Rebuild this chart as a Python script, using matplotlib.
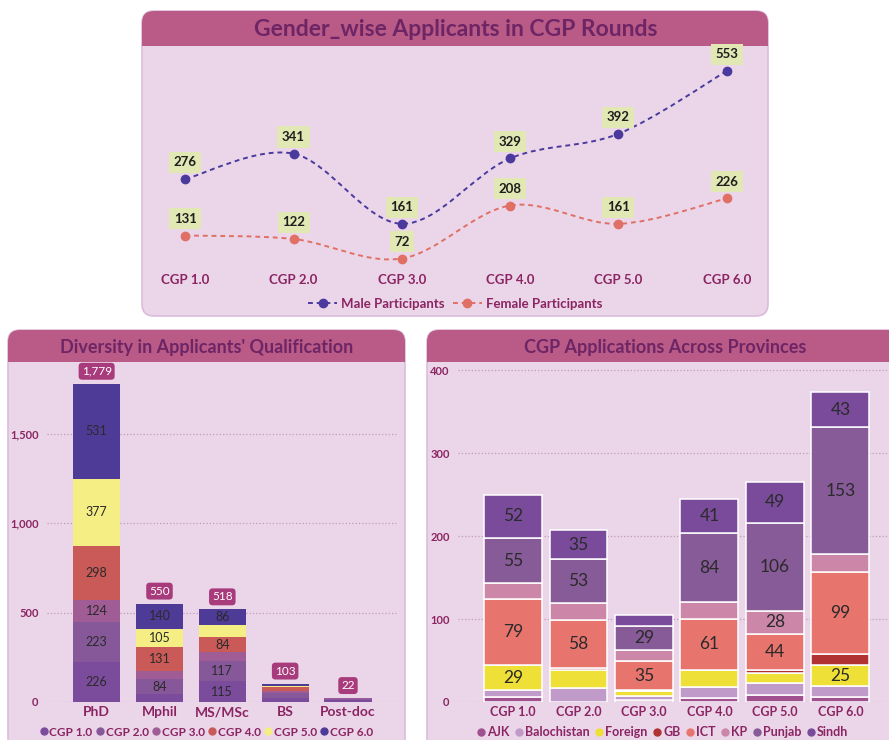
import numpy as np
import matplotlib.pyplot as plt
from matplotlib.patches import FancyBboxPatch, Rectangle, PathPatch
from matplotlib.path import Path
from matplotlib.lines import Line2D

plt.rcParams['font.family'] = ['Lato', 'DejaVu Sans']

# Gender-wise data
rounds = ["CGP 1.0", "CGP 2.0", "CGP 3.0", "CGP 4.0", "CGP 5.0", "CGP 6.0"]
male = [276, 341, 161, 329, 392, 553]
female = [131, 122, 72, 208, 161, 226]

# Qualification data (stacked by round)
quals = ["PhD", "Mphil", "MS/MSc", "BS", "Post-doc"]
qual_rounds = {
    "CGP 1.0": [226, 43, 115, 22, 10],
    "CGP 2.0": [223, 84, 117, 28, 7],
    "CGP 3.0": [124, 47, 47, 12, 5],
    "CGP 4.0": [298, 131, 84, 20, 0],
    "CGP 5.0": [377, 105, 69, 6, 0],
    "CGP 6.0": [531, 140, 86, 15, 0],
}
qual_totals = [1779, 550, 518, 103, 22]
qual_colors = ["#7b4b9c", "#86589a", "#a05c95", "#c95a57", "#f5ee84", "#4d3b97"]

# Province data (stacked by province)
provinces = {
    "AJK": [6, 0, 2, 5, 8, 6],
    "Balochistan": [9, 17, 5, 13, 15, 13],
    "Foreign": [29, 21, 6, 21, 12, 25],
    "GB": [1, 3, 1, 0, 3, 14],
    "ICT": [79, 58, 35, 61, 44, 99],
    "KP": [19, 20, 14, 20, 28, 21],
    "Punjab": [55, 53, 29, 84, 106, 153],
    "Sindh": [52, 35, 13, 41, 49, 43],
}
prov_colors = ["#a0508e", "#c09ac8", "#eee036", "#b03232", "#e8746e", "#cc86a8", "#875a98", "#7a4b9b"]

BODY = "#ead6e8"
EDGE = "#dcbcdc"
BAND = "#b95a87"
TITLE = "#6e2565"
TICK = "#8b2463"

W, H = 889, 740
fig = plt.figure(figsize=(W / 100, H / 100), dpi=100)


def add_ax(left, top, right, bottom):
    ax = fig.add_axes([left / W, 1 - bottom / H, (right - left) / W, (bottom - top) / H])
    ax.set_facecolor("none")
    for s in ax.spines.values():
        s.set_visible(False)
    return ax


def panel(left, top, right, bottom, band_bottom, title, size, title_x):
    tr = fig.dpi_scale_trans
    r = 0.12
    body = FancyBboxPatch((left / 100, (H - bottom) / 100), (right - left) / 100, (bottom - top) / 100,
                          boxstyle=f"round,pad=0,rounding_size={r}", transform=tr,
                          fc=BODY, ec=EDGE, lw=1.2, zorder=-5)
    band = FancyBboxPatch((left / 100, (H - band_bottom) / 100), (right - left) / 100, (band_bottom - top) / 100,
                          boxstyle=f"round,pad=0,rounding_size={r}", transform=tr,
                          fc=BAND, ec="none", zorder=-4)
    sq = Rectangle((left / 100, (H - band_bottom) / 100), (right - left) / 100, (band_bottom - top) / 200,
                   transform=tr, fc=BAND, ec="none", zorder=-4)
    fig.patches.extend([body, band, sq])
    fig.text(title_x / W, 1 - ((top + band_bottom) / 2 + 1) / H, title,
             ha="center", va="center", fontsize=size, fontweight="bold", color=TITLE)


panel(142, 11, 768, 316, 46, "Gender_wise Applicants in CGP Rounds", 16.5, 456)
panel(8, 330, 405, 770, 362, "Diversity in Applicants' Qualification", 13, 207)
panel(427, 330, 910, 770, 362, "CGP Applications Across Provinces", 13, 665)


def smooth_path(xs, ys):
    pts = np.column_stack([xs, ys]).astype(float)
    n = len(pts)
    verts = [pts[0]]
    codes = [Path.MOVETO]
    for i in range(n - 1):
        p0 = pts[max(i - 1, 0)]
        p1 = pts[i]
        p2 = pts[i + 1]
        p3 = pts[min(i + 2, n - 1)]
        verts += [p1 + (p2 - p0) / 6, p2 - (p3 - p1) / 6, p2]
        codes += [Path.CURVE4] * 3
    return Path(verts, codes)


# ---- top: line chart
ax1 = add_ax(142, 50, 770, 270)
x = np.arange(len(rounds))
for vals, col in [(male, "#4b3a9e"), (female, "#e07065")]:
    ax1.add_patch(PathPatch(smooth_path(x, vals), fill=False, ec=col, lw=1.4,
                            linestyle=(0, (2.5, 2))))
    ax1.plot(x, vals, "o", color=col, ms=6, ls="none")
    for i, v in enumerate(vals):
        ax1.annotate(str(v), (i, v), xytext=(0, 12), textcoords="offset points",
                     ha="center", va="center", fontsize=9.5, fontweight="bold", color="#1e1e1e",
                     bbox=dict(boxstyle="square,pad=0.35", fc="#e2e8b4", ec="none"))
ax1.set_xlim(-0.4, 5.4)
ax1.set_ylim(42.5, 607)
ax1.set_yticks([])
ax1.set_xticks(x)
ax1.set_xticklabels(rounds, fontsize=9.5, fontweight="bold", color=TICK)
ax1.tick_params(axis="x", length=0, pad=3)
h1 = [Line2D([], [], color="#4b3a9e", marker="o", ms=6, ls=(0, (2.5, 2)), lw=1.4),
      Line2D([], [], color="#e07065", marker="o", ms=6, ls=(0, (2.5, 2)), lw=1.4)]
leg = fig.legend(h1, ["Male Participants", "Female Participants"], loc="center",
                 bbox_to_anchor=(455 / W, 1 - 304 / H), ncol=2, frameon=False,
                 handlelength=2.2, handletextpad=0.3, columnspacing=0.6,
                 prop=dict(size=9.5, weight="bold"))
for t in leg.get_texts():
    t.set_color(TICK)

# ---- bottom left: qualification
ax2 = add_ax(47, 370, 397, 702)
xq = np.arange(len(quals))
bottom = np.zeros(len(quals))
for (name, vals), col in zip(qual_rounds.items(), qual_colors):
    vals = np.array(vals, dtype=float)
    ax2.bar(xq, vals, 0.75, bottom=bottom, color=col, edgecolor="none", zorder=2)
    for i, v in enumerate(vals):
        if v >= 80:
            ax2.text(i, bottom[i] + v / 2, f"{int(v)}", ha="center", va="center",
                     fontsize=9, color="#2a2a2a", zorder=3)
    bottom += vals
for i, t in enumerate(qual_totals):
    ax2.annotate(f"{t:,}", (i, t), xytext=(0, 9), textcoords="offset points",
                 ha="center", va="center", fontsize=8.5, color="white", zorder=4,
                 bbox=dict(boxstyle="round,pad=0.25,rounding_size=0.3", fc="#a83b7b", ec="none"))
ax2.set_xlim(-0.79, 4.78)
ax2.set_ylim(0, 1856)
ax2.set_yticks([0, 500, 1000, 1500])
ax2.set_yticklabels(["0", "500", "1,000", "1,500"])
ax2.yaxis.grid(True, ls=":", color="#c29ab9", lw=0.9, zorder=0)
ax2.set_xticks(xq)
ax2.set_xticklabels(quals, fontsize=10, fontweight="bold", color=TICK)
ax2.tick_params(axis="x", length=0, pad=3)
ax2.tick_params(axis="y", length=0, pad=6, labelsize=8, labelcolor=TICK)
for t in ax2.get_yticklabels():
    t.set_fontweight("bold")
h2 = [Line2D([], [], color=c, marker="o", ms=5, ls="none") for c in qual_colors]
leg2 = fig.legend(h2, list(qual_rounds.keys()), loc="center", bbox_to_anchor=(207 / W, 1 - 732 / H),
                  ncol=6, frameon=False, handlelength=0.5, handletextpad=0.2, columnspacing=0.4,
                  prop=dict(size=8.5, weight="bold"))
for t in leg2.get_texts():
    t.set_color(TICK)

# ---- bottom right: provinces
ax3 = add_ax(458, 366, 900, 702)
xp = np.arange(len(rounds))
bottom = np.zeros(len(rounds))
for (name, vals), col in zip(provinces.items(), prov_colors):
    vals = np.array(vals, dtype=float)
    ax3.bar(xp, vals, 0.885, bottom=bottom, color=col, edgecolor="white", lw=1.1, zorder=2)
    for i, v in enumerate(vals):
        if v >= 25:
            ax3.text(i, bottom[i] + v / 2, f"{int(v)}", ha="center", va="center",
                     fontsize=12.5, color="#2a2a2a", zorder=3)
    bottom += vals
ax3.set_xlim(-0.84, 5.91)
ax3.set_ylim(0, 405)
ax3.set_yticks([0, 100, 200, 300, 400])
ax3.yaxis.grid(True, ls=":", color="#c29ab9", lw=0.9, zorder=0)
ax3.set_xticks(xp)
ax3.set_xticklabels(rounds, fontsize=9, fontweight="bold", color=TICK)
ax3.tick_params(axis="x", length=0, pad=3)
ax3.tick_params(axis="y", length=0, pad=6, labelsize=8, labelcolor=TICK)
for t in ax3.get_yticklabels():
    t.set_fontweight("bold")
h3 = [Line2D([], [], color=c, marker="o", ms=5, ls="none") for c in prov_colors]
leg3 = fig.legend(h3, list(provinces.keys()), loc="center", bbox_to_anchor=(663 / W, 1 - 732 / H),
                  ncol=8, frameon=False, handlelength=0.5, handletextpad=0.25, columnspacing=0.5,
                  prop=dict(size=9, weight="bold"))
for t in leg3.get_texts():
    t.set_color(TICK)

fig.savefig("out.png", dpi=100, facecolor="white")
